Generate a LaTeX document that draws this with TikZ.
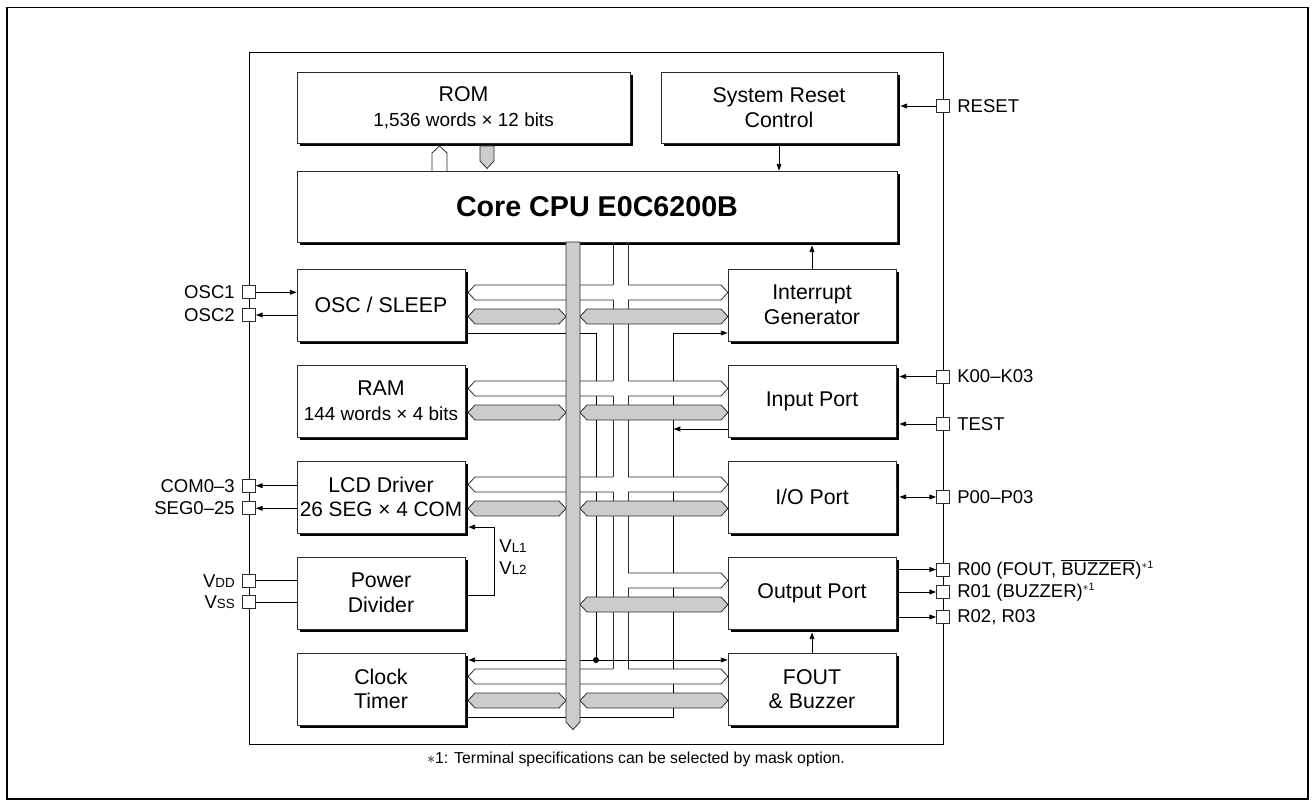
\documentclass[tikz,border=0pt]{standalone}
\usepackage{fontspec}
\setmainfont{Liberation Sans}
\usetikzlibrary{arrows.meta,shadows,calc}
\definecolor{busgray}{RGB}{204,204,204}
\definecolor{linec}{RGB}{45,45,45}
\newcommand\tsz{\fontsize{16}{18.5}\selectfont}
\newcommand\ssz{\fontsize{14.2}{18.5}\selectfont}
\newcommand\lsz{\fontsize{15.6}{18.5}\selectfont}
\newcommand\csz{\fontsize{21.5}{24}\selectfont\bfseries}
\newcommand\psz{\fontsize{13.9}{16}\selectfont}
\newcommand\fsz{\fontsize{11.9}{14}\selectfont}
\newcommand\subsz{\fontsize{10}{12}\selectfont}
\newcommand\supnote{\raisebox{0.36em}{\fontsize{8}{9}\selectfont$\ast$1}}
\tikzset{
  blk/.style={draw=linec, line width=0.6pt, fill=white,
    drop shadow={shadow xshift=2.25pt, shadow yshift=-2.25pt, fill=black, opacity=1},
    align=center, inner sep=0pt, font=\tsz, minimum width=126pt, minimum height=54pt},
  term/.style={draw=linec, fill=white, minimum size=9.75pt, inner sep=0pt, line width=0.6pt},
  plab/.style={font=\psz, inner sep=0pt},
  sig/.style={draw=black, line width=0.6pt},
  hol/.style={draw=linec, line width=0.6pt, fill=white},
  gbus/.style={draw=linec, fill=busgray, line width=0.6pt},
}
\begin{document}
\begin{tikzpicture}[x=0.75pt,y=-0.75pt, >={Triangle[length=5pt,width=3.6pt]}, line width=0.6pt]
\useasboundingbox (0,0) rectangle (1315,806);
\draw[line width=1.2pt] (7,7.5) rectangle (1308,799);
\draw[line width=0.75pt] (249,53) rectangle (943,744);

% ---- blocks
\node[blk, minimum width=249.75pt, minimum height=53.25pt] (rom) at (463.5,107.5) {ROM\\{\ssz 1,536 words × 12 bits}};
\node[blk, minimum width=177pt, minimum height=53.25pt] (rst) at (779,107.5) {System Reset\\Control};
\node[blk, minimum width=450pt, minimum height=53.25pt, font=\csz] (cpu) at (597,206.5) {Core CPU E0C6200B};

\node[blk] (osc)  at (381,305) {OSC / SLEEP};
\node[blk] (ram)  at (381,401) {RAM\\{\ssz 144 words × 4 bits}};
\node[blk] (lcd)  at (381,497) {LCD Driver\\{\lsz 26 SEG × 4 COM}};
\node[blk] (pdiv) at (381,593) {Power\\Divider};
\node[blk] (ctim) at (381,689) {Clock\\Timer};

\node[blk] (intr) at (812,305) {Interrupt\\Generator};
\node[blk] (inp)  at (812,401) {Input Port};
\node[blk] (io)   at (812,497) {I/O Port};
\node[blk] (outp) at (812,593) {Output Port};
\node[blk] (fout) at (812,689) {FOUT\\\& Buzzer};

% ---- thin signal lines
\coordinate (clk) at (596,660);
\draw[sig] ($(osc.east)+(3,28)$) -| (clk);
\draw[sig,->] (clk) -- ($(clk -| ctim.east)+(3,0)$);
\draw[sig,->] (clk) -- (clk -| fout.west);
\fill (clk) circle (3);
\coordinate (ij) at ($(intr.west)+(-54,28)$);
\draw[sig,->] ($(ctim.east)+(3,28)$) -| (ij) -- ($(intr.west)+(0,28)$);
\draw[sig,->] ($(inp.west)+(0,28)$) -- ($(inp.west)+(-54,28)$);

% ---- hollow bus
\foreach \T in {269,365,461}{
  \draw[hol] (613,\T+16) -- (475,\T+16) -- (468,\T+23.5) -- (475,\T+31) -- (613,\T+31);
  \draw[hol] (628,\T+16) -- (721,\T+16) -- (728,\T+23.5) -- (721,\T+31) -- (628,\T+31);
}
\draw[hol] (628,573) -- (721,573) -- (728,580.5) -- (721,588) -- (628,588);
\draw[hol] (613,669) -- (475,669) -- (468,676.5) -- (475,684) -- (721,684) -- (728,676.5) -- (721,669) -- (628,669);
\foreach \a/\b in {242/285,300/381,396/477,492/669}{\draw[linec] (613,\a) -- (613,\b);}
\foreach \a/\b in {242/285,300/381,396/477,492/573,588/669}{\draw[linec] (628,\a) -- (628,\b);}

% ---- gray bus bands
\foreach \T in {269,365,461,653}{
  \draw[gbus] (475,\T+40) -- (559,\T+40) -- (566,\T+47.5) -- (559,\T+55) -- (475,\T+55) -- (468,\T+47.5) -- cycle;
}
\foreach \T in {269,365,461,557,653}{
  \draw[gbus] (587,\T+40) -- (721,\T+40) -- (728,\T+47.5) -- (721,\T+55) -- (587,\T+55) -- (580,\T+47.5) -- cycle;
}
\draw[gbus] (566,242) -- (580,242) -- (580,722) -- (573,729.5) -- (566,722) -- cycle;

% ---- ROM buses
\draw[hol] (432,171) -- (432,153) -- (439.5,146) -- (447,153) -- (447,171);
\draw[gbus] (480,146) -- (480,161) -- (487,168.5) -- (494,161) -- (494,146) -- cycle;

% ---- internal arrows
\draw[sig,->] ($(rst.south)+(0,3)$) -- (rst.south |- cpu.north);
\draw[sig,->] (intr.north) -- ($(intr.north |- cpu.south)+(0,3)$);
\draw[sig,->] (fout.north) -- ($(outp.south)+(0,3)$);
\coordinate (vl) at ($(pdiv.east)+(29,2)$);
\draw[sig,->] ($(pdiv.east)+(3,2)$) -- (vl) |- ($(lcd.south east)+(3,-6.3)$);
\node[plab, anchor=west] (vl1) at (499,545.7) {V{\subsz L1}};
\node[plab, anchor=west] (vl2) at (499,568) {V{\subsz L2}};

% ---- terminals left
\node[term] (posc1) at (249,292.3) {};
\node[term] (posc2) at (249,315) {};
\node[term] (pcom) at (249,485.7) {};
\node[term] (pseg) at (249,508.3) {};
\node[term] (pvdd) at (249,580.7) {};
\node[term] (pvss) at (249,602.3) {};
\draw[sig,->] (posc1.east) -- (posc1 -| osc.west);
\draw[sig,->] (osc.west |- posc2) -- (posc2.east);
\draw[sig,->] (lcd.west |- pcom) -- (pcom.east);
\draw[sig,->] (lcd.west |- pseg) -- (pseg.east);
\draw[sig] (pdiv.west |- pvdd) -- (pvdd.east);
\draw[sig] (pdiv.west |- pvss) -- (pvss.east);
\node[plab, anchor=east] at ($(posc1.west)+(-7,0)$) {OSC1};
\node[plab, anchor=east] at ($(posc2.west)+(-7,0)$) {OSC2};
\node[plab, anchor=east] at ($(pcom.west)+(-7,0)$) {COM0–3};
\node[plab, anchor=east] at ($(pseg.west)+(-7,0)$) {SEG0–25};
\node[plab, anchor=east] at ($(pvdd.west)+(-7,0)$) {V{\subsz DD}};
\node[plab, anchor=east] at ($(pvss.west)+(-7,0)$) {V{\subsz SS}};

% ---- terminals right
\node[term] (pres) at (943,106) {};
\node[term] (pk) at (943,376.5) {};
\node[term] (ptest) at (943,424) {};
\node[term] (pp) at (943,497) {};
\node[term] (pr0) at (943,569.5) {};
\node[term] (pr1) at (943,592) {};
\node[term] (pr2) at (943,617) {};
\draw[sig,->] (pres.west) -- ($(pres -| rst.east)+(3,0)$);
\draw[sig,->] (pk.west) -- ($(pk -| inp.east)+(3,0)$);
\draw[sig,->] (ptest.west) -- ($(ptest -| inp.east)+(3,0)$);
\draw[sig,<->] ($(pp -| io.east)+(3,0)$) -- (pp.west);
\draw[sig,->] ($(pr0 -| outp.east)+(3,0)$) -- (pr0.west);
\draw[sig,->] ($(pr1 -| outp.east)+(3,0)$) -- (pr1.west);
\draw[sig,->] ($(pr2 -| outp.east)+(3,0)$) -- (pr2.west);
\node[plab, anchor=west] at ($(pres.east)+(7,0)$) {RESET};
\node[plab, anchor=west] at ($(pk.east)+(7,0)$) {K00–K03};
\node[plab, anchor=west] at ($(ptest.east)+(7,0)$) {TEST};
\node[plab, anchor=west] at ($(pp.east)+(7,0)$) {P00–P03};
\node[plab, anchor=west] at ($(pr0.east)+(7,0)$) {R00 (FOUT, $\overline{\mbox{BUZZER}}$)\supnote};
\node[plab, anchor=west] at ($(pr1.east)+(7,0)$) {R01 (BUZZER)\supnote};
\node[plab, anchor=west] at ($(pr2.east)+(7,0)$) {R02, R03};

% ---- footnote
\node[font=\fsz, inner sep=0pt] (note) at (636,759) {$\ast$1: Terminal specifications can be selected by mask option.};
\end{tikzpicture}
\end{document}
